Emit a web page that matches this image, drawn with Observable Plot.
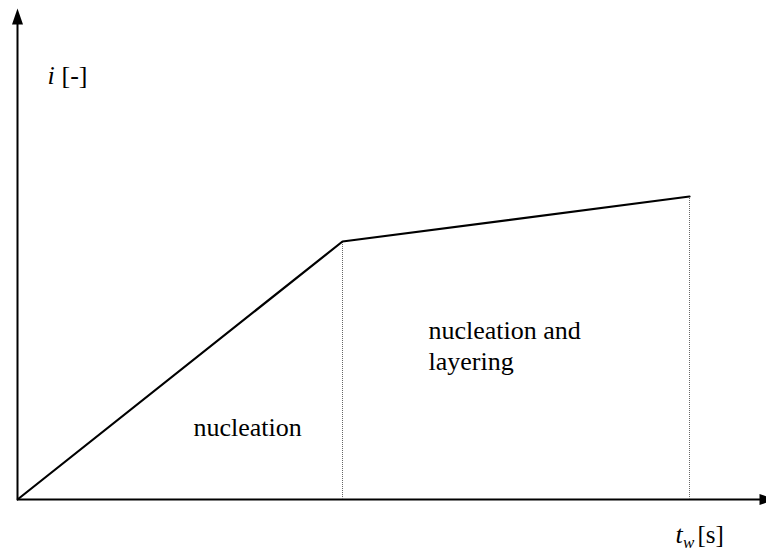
<!DOCTYPE html>
<html>
<head>
<meta charset="utf-8">
<script src="https://cdn.jsdelivr.net/npm/d3@7"></script>
<script src="https://cdn.jsdelivr.net/npm/@observablehq/plot@0.6"></script>
<style>
  html, body { margin: 0; padding: 0; background: #fff; }
  svg { display: block; }
</style>
</head>
<body>
<div id="chart"></div>
<script>
// Stage boundaries (time axis, arbitrary units) and index values
const time = [0, 325, 672];
const index = [0, 258, 303];

// Stage boundaries where dotted separators are drawn
const boundaries = [325, 672];

// Region labels
const regionLabels = ["nucleation", "nucleation and\nlayering"];
const regionX = [176, 411];
const regionY = [64, 130];

// Axis label pieces
const yLabelMain = "i";
const yLabelUnit = "[-]";
const xLabelMain = "t";
const xLabelSub = "w";
const xLabelUnit = "[s]";

const xMax = 749, yMax = 499;

const curve = time.map((t, i) => ({t, v: index[i]}));
const seps = boundaries.map(b => ({t: b, v: index[time.indexOf(b)]}));
const regions = regionLabels.map((s, i) => ({s, x: regionX[i], y: regionY[i]}));

// filled arrowhead symbol: tip at origin, pointing up
const arrowHead = {
  draw(ctx) {
    ctx.moveTo(0, 0);
    ctx.lineTo(5.5, 16);
    ctx.lineTo(-5.5, 16);
    ctx.closePath();
  }
};

const font = "'Liberation Serif', 'Times New Roman', serif";

const chart = Plot.plot({
  width: 766,
  height: 558,
  marginLeft: 17,
  marginRight: 0,
  marginTop: 0,
  marginBottom: 59,
  style: {background: "#fff"},
  x: {domain: [0, xMax], axis: null},
  y: {domain: [0, yMax], axis: null},
  marks: [
    // axes
    Plot.ruleY([0], {x1: 0, x2: 745, stroke: "#000", strokeWidth: 2}),
    Plot.ruleX([0], {y1: 0, y2: 478, stroke: "#000", strokeWidth: 2}),
    Plot.dot([{x: 0, y: 491}], {x: "x", y: "y", symbol: arrowHead, fill: "#000", stroke: null, r: 5}),
    Plot.dot([{x: 758, y: 0}], {x: "x", y: "y", symbol: arrowHead, fill: "#000", stroke: null, r: 5, rotate: 90}),
    // dotted separators
    Plot.ruleX(seps, {x: "t", y1: 0, y2: "v", stroke: "#666", strokeWidth: 1, strokeDasharray: "1,1"}),
    // curve
    Plot.line(curve, {x: "t", y: "v", stroke: "#000", strokeWidth: 2.2, strokeLinejoin: "miter"}),
    // region labels
    Plot.text(regions, {x: "x", y: "y", text: "s", textAnchor: "start", lineAnchor: "bottom", lineHeight: 1.19, fontSize: 26, fill: "#000"}),
    // y axis label
    Plot.text([yLabelMain], {x: 30, y: 416, text: d => d, textAnchor: "start", lineAnchor: "bottom", fontSize: 26, fontStyle: "italic", fill: "#000"}),
    Plot.text([yLabelUnit], {x: 44, y: 416, text: d => d, textAnchor: "start", lineAnchor: "bottom", fontSize: 26, fill: "#000"}),
    // x axis label
    Plot.text([xLabelMain], {x: 658, y: -43, text: d => d, textAnchor: "start", lineAnchor: "bottom", fontSize: 26, fontStyle: "italic", fill: "#000"}),
    Plot.text([xLabelSub], {x: 665.5, y: -48, text: d => d, textAnchor: "start", lineAnchor: "bottom", fontSize: 17, fontStyle: "italic", fill: "#000"}),
    Plot.text([xLabelUnit], {x: 680, y: -43, text: d => d, textAnchor: "start", lineAnchor: "bottom", fontSize: 25, fill: "#000"})
  ]
});

// force the serif face on every text element
chart.style.fontFamily = font;
d3.select(chart).selectAll("text, tspan").style("font-family", font);

document.getElementById("chart").appendChild(chart);
</script>
</body>
</html>
